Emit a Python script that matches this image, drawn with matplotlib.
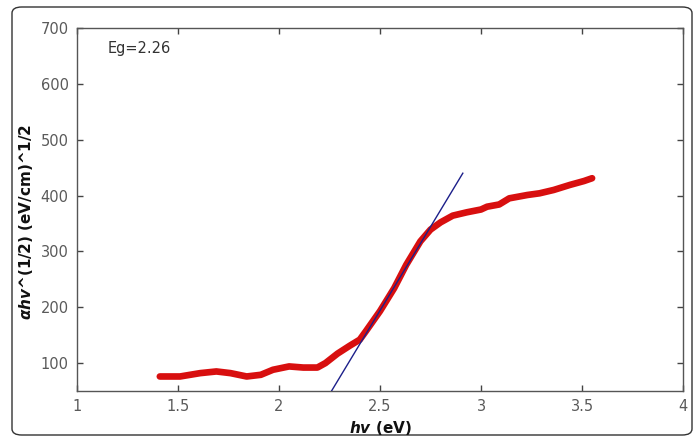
import matplotlib
matplotlib.use("Agg")
import matplotlib.pyplot as plt
from matplotlib.patches import FancyBboxPatch

plt.rcParams['font.family'] = ['DejaVu Sans']
plt.rcParams['mathtext.fontset'] = 'custom'
plt.rcParams['mathtext.it'] = 'DejaVu Sans:italic:bold'
plt.rcParams['mathtext.rm'] = 'DejaVu Sans:bold'
plt.rcParams['mathtext.bf'] = 'DejaVu Sans:bold'

# Data
hv = [1.41, 1.51, 1.61, 1.69, 1.76, 1.84, 1.91, 1.97, 2.05, 2.12, 2.19, 2.23,
      2.29, 2.35, 2.40, 2.43, 2.50, 2.57, 2.63, 2.70, 2.75, 2.80, 2.86, 2.93,
      3.00, 3.03, 3.09, 3.14, 3.23, 3.29, 3.36, 3.44, 3.51, 3.55]
alpha_hv = [76, 76, 82, 85, 82, 76, 79, 88, 94, 92, 92, 100,
            117, 131, 142, 157, 193, 234, 276, 318, 339, 352, 364, 370,
            375, 380, 384, 395, 401, 404, 410, 419, 426, 431]
fit_x = [2.26, 2.91]
fit_y = [50, 440]
xticks = [1, 1.5, 2, 2.5, 3, 3.5, 4]
xticklabels = ['1', '1.5', '2', '2.5', '3', '3.5', '4']
yticks = [100, 200, 300, 400, 500, 600, 700]

fig = plt.figure(figsize=(6.97, 4.37), dpi=100)
frame = FancyBboxPatch((12/697, 2/437), 680/697, 428/437,
                       boxstyle="round,pad=0,rounding_size=0.014",
                       transform=fig.transFigure, facecolor='white',
                       edgecolor='#333333', linewidth=1.0, zorder=-10)
fig.patches.append(frame)

ax = fig.add_axes([77/697, 1 - 391/437, 606/697, 363/437])
ax.plot(hv, alpha_hv, color='#d80f0f', linewidth=4.8, solid_capstyle='round',
        solid_joinstyle='round', zorder=2)
ax.plot(fit_x, fit_y, color='#1c1f8a', linewidth=1.0, zorder=3)

ax.set_xlim(1, 4)
ax.set_ylim(50, 700)
ax.set_xticks(xticks)
ax.set_xticklabels(xticklabels)
ax.set_yticks(yticks)
ax.tick_params(direction='in', length=4, width=1, top=True, right=True,
               labelsize=10.5, labelcolor='#5a5a5a', color='#444444', pad=6)
for s in ax.spines.values():
    s.set_color('#555555')
    s.set_linewidth(1.0)

ax.text(1.15, 664, 'Eg=2.26', fontsize=10.5, color='#333333', va='center')

ax.set_xlabel(r'$hv$ (eV)', fontsize=11, fontweight='bold', color='#111111')
ax.xaxis.set_label_coords(0.5, -0.078)
ax.set_ylabel(r'$\mathit{\alpha hv}$^(1/2) (eV/cm)^1/2', fontsize=11,
              fontweight='bold', color='#111111')
ax.yaxis.set_label_coords(-0.069, 0.466)

fig.savefig('out.png', dpi=100)
